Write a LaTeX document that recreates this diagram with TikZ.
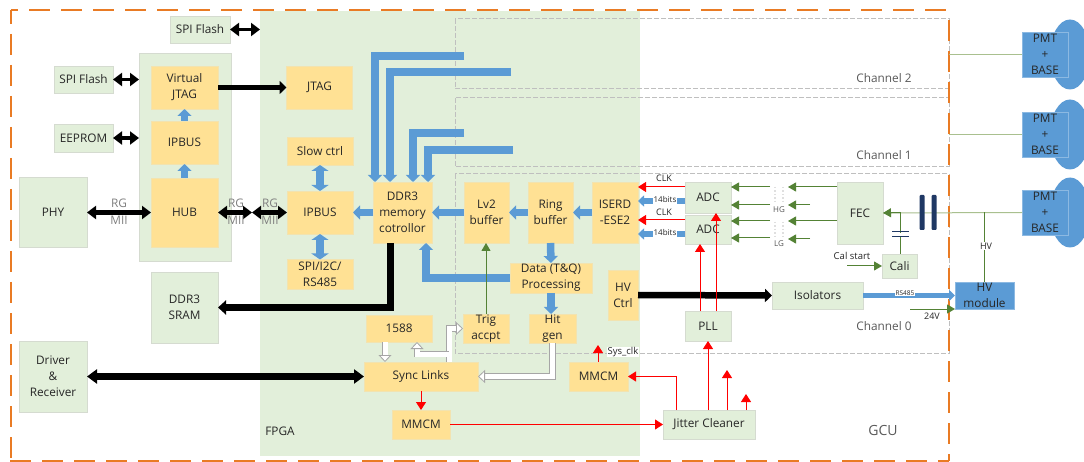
\documentclass[tikz,border=0pt]{standalone}
\usepackage{fontspec}
\setmainfont{Open Sans}
\usetikzlibrary{positioning, arrows.meta, calc}
\definecolor{fpgabg}{HTML}{E2EFDA}
\definecolor{blockfill}{HTML}{FFE194}
\definecolor{blockedge}{HTML}{F2E3B0}
\definecolor{chipedge}{HTML}{D5DBD0}
\definecolor{busblue}{HTML}{5B9BD5}
\definecolor{siggreen}{HTML}{548235}
\definecolor{paleline}{HTML}{A9C08F}
\definecolor{capblue}{HTML}{1F3864}
\definecolor{gcuorange}{HTML}{E97B24}
\definecolor{channelgray}{HTML}{BFBFBF}
\definecolor{textmain}{HTML}{262626}
\definecolor{labelgray}{HTML}{595959}

\begin{document}
\begin{tikzpicture}[
    x=1pt, y=-1pt,
    font=\fontsize{11.8}{16}\selectfont,
    block/.style={rectangle, inner sep=0pt, outer sep=0pt, text=textmain, align=center},
    fpgablock/.style={block, draw=blockedge, fill=blockfill},
    chipblock/.style={block, draw=chipedge, fill=fpgabg},
    pmtblock/.style={block, draw=busblue!70!white, fill=busblue, minimum width=46pt, minimum height=45pt},
    tag/.style={inner sep=0.6pt, outer sep=0pt, text=textmain, fill=white, font=\fontsize{8}{9}\selectfont},
    freetext/.style={inner sep=0pt, outer sep=0pt, text=labelgray, align=center},
    channelbox/.style={draw=channelgray, line width=1pt, dashed, dash pattern=on 5pt off 2pt},
    border/.style={gcuorange, line width=2.5pt},
    busarrow/.style={{Triangle[length=9pt, width=13pt]}-{Triangle[length=9pt, width=13pt]}, line width=4.5pt, black},
    oneway/.style={-{Triangle[length=7pt, width=13pt]}, line width=5.5pt, black},
    flowarrow/.style={-{Triangle[length=7pt, width=14pt]}, line width=7.5pt, busblue},
    bothflow/.style={{Triangle[length=6pt, width=17pt]}-{Triangle[length=6pt, width=17pt]}, line width=7.5pt, busblue},
    clkarrow/.style={-{Triangle[length=8pt, width=10pt]}, line width=1pt, red},
    sigarrow/.style={-{Triangle[length=8pt, width=9pt]}, line width=1pt, siggreen},
    paleedge/.style={line width=1pt, paleline},
    hollowarrow/.style={-{Triangle[length=7pt, width=13pt, fill=white]}, draw=gray!70, double=white, double distance=5pt, line width=0.8pt}
  ]
    \clip (0,0) rectangle (1084,462);
    \fill[white] (0,0) rectangle (1084,462);

    % regions
    \node[block, fill=fpgabg, minimum width=380pt, minimum height=445pt, anchor=north west] (fpga) at (260,11) {};
    \node[block, fill=fpgabg, draw=chipedge, minimum width=92pt, minimum height=208pt, anchor=north west] (cardbg) at (139,53) {};
    \draw[channelbox] (455,19) rectangle (949,89);
    \draw[channelbox] (455,98) rectangle (949,167);
    \draw[channelbox] (455,174) rectangle (949,353);
    \draw[border, dash pattern=on 21pt off 11pt, dash phase=13.7pt] (11,10) -- (949,10);
    \draw[border, dash pattern=on 21pt off 10pt, dash phase=21pt] (949,10) -- (949,461);
    \draw[border, dash pattern=on 21pt off 11pt] (10,461) -- (949,461);
    \draw[border, dash pattern=on 21pt off 10pt, dash phase=7pt] (11,10) -- (11,461);

    % left side
    \node[chipblock, minimum width=60pt, minimum height=27pt] (flash0) at (200,29.5) {SPI Flash};
    \node[chipblock, minimum width=59pt, minimum height=27pt] (flash1) at (83.5,79.5) {SPI Flash};
    \node[chipblock, minimum width=59pt, minimum height=28pt] (eeprom) at (83.5,138) {EEPROM};
    \node[chipblock, minimum width=68pt, minimum height=70pt] (phy) at (53,212.5) {PHY};
    \node[chipblock, minimum width=67pt, minimum height=71pt] (sram) at (184.5,307.5) {DDR3\\SRAM};
    \node[chipblock, minimum width=68pt, minimum height=71pt] (driver) at (53,376.5) {Driver\\\&\\Receiver};

    \node[fpgablock, minimum width=67pt, minimum height=43pt] (vjtag) at (184.5,87.5) {Virtual\\JTAG};
    \node[fpgablock, minimum width=67pt, minimum height=43pt, below=12pt of vjtag] (ipbusa) {IPBUS};
    \node[fpgablock, minimum width=67pt, minimum height=69pt, below=14pt of ipbusa] (hub) {HUB};

    % fpga blocks
    \node[fpgablock, minimum width=66pt, minimum height=43pt] (jtag) at (319.5,87.5) {JTAG};
    \node[fpgablock, minimum width=66pt, minimum height=28pt] (slow) at (320,151) {Slow ctrl};
    \node[fpgablock, minimum width=66pt, minimum height=43pt] (ipbusb) at (320,212.5) {IPBUS};
    \node[fpgablock, minimum width=66pt, minimum height=30pt] (spi) at (320,274.5) {SPI/I2C/\\RS485};
    \node[fpgablock, minimum width=59pt, minimum height=61pt] (ddr) at (402.5,212.5) {DDR3\\memory\\cotrollor};
    \node[fpgablock, minimum width=45pt, minimum height=61pt] (lv2) at (486.5,212.5) {Lv2\\buffer};
    \node[fpgablock, minimum width=45pt, minimum height=61pt, right=19pt of lv2] (ring) {Ring\\buffer};
    \node[fpgablock, minimum width=46pt, minimum height=61pt, right=19pt of ring] (iserd) {ISERD\\-ESE2};
    \node[fpgablock, minimum width=82pt, minimum height=30pt] (proc) at (551,278) {Data (T\&Q)\\Processing};
    \node[fpgablock, minimum width=30pt, minimum height=50pt] (hvctrl) at (623,295) {HV\\Ctrl};
    \node[fpgablock, minimum width=46pt, minimum height=29pt] (trig) at (486,328.5) {Trig\\accpt};
    \node[fpgablock, minimum width=47pt, minimum height=29pt] (hit) at (552.5,328.5) {Hit\\gen};
    \node[fpgablock, minimum width=66pt, minimum height=27pt] (ptp) at (399,328.5) {1588};
    \node[fpgablock, minimum width=114pt, minimum height=29pt] (sync) at (421,376.5) {Sync Links};
    \node[fpgablock, minimum width=58pt, minimum height=29pt] (mmcma) at (421,424.5) {MMCM};
    \node[fpgablock, minimum width=59pt, minimum height=29pt] (mmcmb) at (598.5,376.5) {MMCM};

    % analog chain
    \node[chipblock, minimum width=46pt, minimum height=31pt] (adca) at (708,197.5) {ADC};
    \node[chipblock, minimum width=46pt, minimum height=29pt] (adcb) at (708,229.5) {ADC};
    \node[chipblock, minimum width=46pt, minimum height=30pt] (pll) at (708,326) {PLL};
    \node[chipblock, minimum width=46pt, minimum height=62pt] (fec) at (860,213) {FEC};
    \node[chipblock, minimum width=35pt, minimum height=24pt] (cali) at (899.5,266) {Cali};
    \node[chipblock, minimum width=91pt, minimum height=27pt] (iso) at (817.5,295.5) {Isolators};
    \node[chipblock, minimum width=92pt, minimum height=29pt] (jitter) at (709,424.5) {Jitter Cleaner};
    \node[block, draw=busblue!70!white, fill=busblue, minimum width=59pt, minimum height=27pt] (hvmod) at (984.5,295.5) {HV\\module};

    % pmts
    \foreach \name/\ypos in {pmta/54.5, pmtb/134.5, pmtc/212.5}{
      \fill[busblue] (1070,\ypos) ellipse (20pt and 35pt);
      \node[pmtblock] (\name) at (1045,\ypos) {PMT\\+\\BASE};
    }

    % black buses
    \draw[busarrow, line width=3.5pt] (flash0.east) -- (fpga.west |- flash0.east);
    \draw[busarrow, line width=3.5pt] (flash1.east) -- (cardbg.west |- flash1.east);
    \draw[busarrow, line width=3.5pt] (eeprom.east) -- (cardbg.west |- eeprom.east);
    \draw[busarrow] (phy.east) -- (hub.west);
    \coordinate (mid) at (252,212.5);
    \draw[busarrow] (hub.east) -- (mid);
    \draw[busarrow] (mid) -- (ipbusb.west);
    \draw[oneway] (vjtag.east) -- (jtag.west);
    \draw[oneway, line width=7pt, -{Triangle[length=8pt, width=14pt]}] (ddr.south -| 390,0) |- (sram.east);
    \draw[busarrow, line width=6.5pt, {Triangle[length=10pt, width=14pt]}-{Triangle[length=10pt, width=14pt]}] (driver.east) -- (sync.west);
    \draw[oneway, line width=6.5pt] (hvctrl.east) -- (iso.west);

    % blue flows
    \draw[flowarrow] (ipbusa.north) -- (vjtag.south);
    \draw[flowarrow] (hub.north) -- (ipbusa.south);
    \draw[bothflow] (slow.south) -- (ipbusb.north);
    \draw[bothflow] (ipbusb.south) -- (spi.north);
    \draw[flowarrow] (ddr.west) -- (ipbusb.east);
    \draw[flowarrow] (lv2.west) -- (ddr.east);
    \draw[flowarrow] (ring.west) -- (lv2.east);
    \draw[flowarrow] (iserd.west) -- (ring.east);
    \draw[flowarrow] (ring.south) -- (proc.north);
    \draw[flowarrow] (proc.south) -- (proc.south |- hit.north);
    \draw[flowarrow] (proc.west) -| (ddr.south -| 426,0);
    \coordinate (cha) at (464,56);
    \coordinate (chb) at (511,72);
    \coordinate (chc) at (464,133);
    \coordinate (chd) at (513,150);
    \draw[flowarrow] (cha) -| (ddr.north -| 375,0);
    \draw[flowarrow] (chb) -| (ddr.north -| 390,0);
    \draw[flowarrow] (chc) -| (ddr.north -| 413,0);
    \draw[flowarrow] (chd) -| (ddr.north -| 428,0);
    \draw[flowarrow, line width=5.5pt, -{Triangle[length=6pt, width=11pt]}] (adca.west |- 0,201) -- (iserd.east |- 0,201);
    \draw[flowarrow, line width=5.5pt, -{Triangle[length=6pt, width=11pt]}] (adcb.west |- 0,234) -- (iserd.east |- 0,234);
    \draw[flowarrow, line width=5pt, -{Triangle[length=6pt, width=11pt]}] (iso.east) -- (hvmod.west);

    % hollow links
    \draw[hollowarrow] (ptp.south -| 385,0) -- (sync.north -| 385,0);
    \draw[hollowarrow] (sync.north -| 449,0) |- (trig.west);
    \draw[hollowarrow] (449,354) -| (ptp.south -| 417,0);
    \draw[hollowarrow] (hit.south) |- (sync.east);

    % clocks
    \draw[clkarrow] (sync.south) -- (mmcma.north);
    \draw[clkarrow] (mmcma.east) -- (jitter.west);
    \draw[clkarrow] (jitter.north -| 676,0) |- (mmcmb.east);
    \draw[clkarrow] (jitter.north -| 708,0) -- (pll.south);
    \coordinate (jca) at (727,370);
    \coordinate (jcb) at (746,394);
    \draw[clkarrow] (jitter.north -| 727,0) -- (jca);
    \draw[clkarrow] (jitter.north -| 746,0) -- (jcb);
    \coordinate (sysclk) at (598,345);
    \draw[clkarrow] (mmcmb.north -| 598,0) -- (sysclk);
    \draw[clkarrow] (pll.north -| 700,0) -- (adcb.south -| 700,0);
    \draw[clkarrow] (pll.north -| 716,0) -- (adca.south -| 716,0);
    \draw[clkarrow] (adca.west |- 0,187) -- (iserd.east |- 0,187);
    \draw[clkarrow] (adcb.west |- 0,220) -- (iserd.east |- 0,220);

    % analog signals
    \coordinate (hga) at (770,187);
    \coordinate (hgb) at (770,205);
    \coordinate (lga) at (770,221);
    \coordinate (lgb) at (770,238);
    \coordinate (hgc) at (788,187);
    \coordinate (hgd) at (788,205);
    \coordinate (lgc) at (788,221);
    \coordinate (lgd) at (788,239);
    \draw[sigarrow] (hga) -- (adca.east |- hga);
    \draw[sigarrow] (hgb) -- (adca.east |- hgb);
    \draw[sigarrow] (lga) -- (adcb.east |- lga);
    \draw[sigarrow] (lgb) -- (adcb.east |- lgb);
    \draw[sigarrow] (fec.west |- hgc) -- (hgc);
    \draw[sigarrow] (810,205) -- (hgd);
    \draw[sigarrow] (fec.west |- lgc) -- (lgc);
    \draw[sigarrow] (810,239) -- (lgd);
    \draw[sigarrow] (trig.north) -- (lv2.south -| trig.north);
    \coordinate (calin) at (847,266);
    \draw[sigarrow] (calin) -- (cali.west);
    \draw[sigarrow] (910,309) -- (hvmod.west |- 0,309);

    % input line and capacitors
    \draw[paleedge] (pmtc.west) -- (fec.east);
    \draw[sigarrow] (900,212.5) -- (fec.east);
    \draw[paleedge] (949,54.5) -- (pmta.west);
    \draw[paleedge] (949,134.5) -- (pmtb.west);
    \draw[sigarrow, -] (cali.north -| 900,0) -- (900,212.5);
    \draw[sigarrow, -] (hvmod.north) -- (hvmod.north |- pmtc.west);
    \fill[capblue, rounded corners=1pt] (919.5,195) rectangle (924.5,230);
    \fill[capblue, rounded corners=1pt] (931.5,195) rectangle (936.5,230);
    \fill[white] (893,233) rectangle (908,236);
    \draw[capblue, line width=1pt] (892,232) -- (909,232);
    \draw[capblue, line width=1pt] (892,236.5) -- (909,236.5);

    % transformers
    \draw[gray!25, dotted, line width=1.4pt] (775,187) -- (775,203) (783,187) -- (783,203);
    \draw[gray!25, dotted, line width=1.4pt] (775,222) -- (775,238) (783,222) -- (783,238);

    % labels
    \foreach \pos in {119, 236, 270}{
      \node[freetext, text=gray] at (\pos,203) {RG};
      \node[freetext, text=gray] at (\pos,220) {MII};
    }
    \node[tag, font=\fontsize{9}{10}\selectfont] at (664,178) {CLK};
    \node[tag, font=\fontsize{9}{10}\selectfont] at (664,212) {CLK};
    \node[tag] at (665,200) {14bits};
    \node[tag] at (665,233) {14bits};
    \node[freetext, font=\fontsize{8}{9}\selectfont] at (779,210) {HG};
    \node[freetext, font=\fontsize{8}{9}\selectfont] at (779,244) {LG};
    \node[tag, font=\fontsize{9.5}{10}\selectfont] at (852,256) {Cal start};
    \node[tag, font=\fontsize{6.5}{7}\selectfont] at (905,293) {RS485};
    \node[tag, font=\fontsize{9}{10}\selectfont] at (932,316) {24V};
    \node[tag, font=\fontsize{9}{10}\selectfont] at (986,246) {HV};
    \node[tag, font=\fontsize{9.5}{10}\selectfont] at (623,352) {Sys\_clk};
    \node[freetext] at (884,78) {Channel 2};
    \node[freetext] at (884,155) {Channel 1};
    \node[freetext] at (884,326) {Channel 0};
    \node[freetext, font=\fontsize{14}{16}\selectfont] at (883,430) {GCU};
    \node[freetext, text=textmain] at (280,431) {FPGA};
  \end{tikzpicture}
\end{document}
